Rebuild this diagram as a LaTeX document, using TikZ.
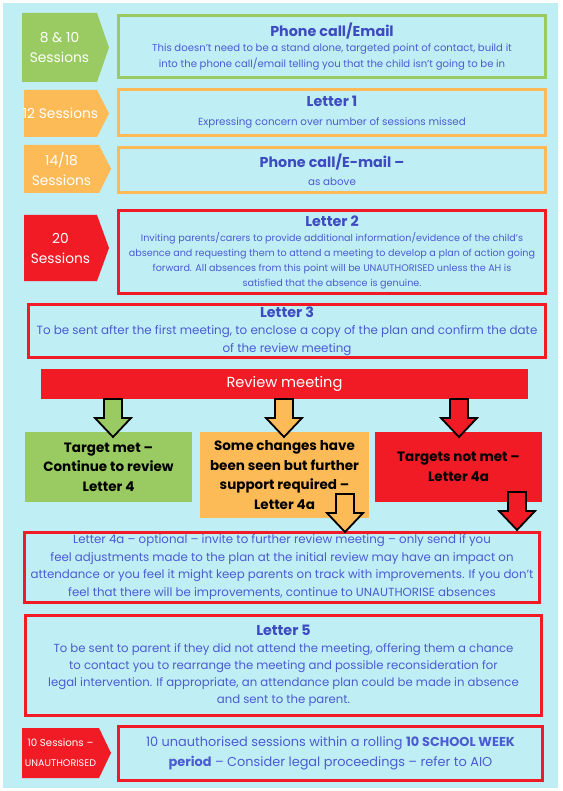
\documentclass[tikz,border=0pt]{standalone}
\usepackage{fontspec}
\setmainfont{Poppins}
\usepackage{xcolor}
\definecolor{bgcyan}{HTML}{C0EEF5}
\definecolor{tgreen}{HTML}{9ACB62}
\definecolor{torange}{HTML}{FDBB58}
\definecolor{tred}{HTML}{F01B25}
\definecolor{ttitle}{HTML}{3D4BC0}
\definecolor{tbody}{HTML}{4A5CD2}
\usepackage{tikz}
\newcommand{\ttl}[1]{{\fontsize{14.3}{16}\selectfont\bfseries\color{ttitle}#1}}
\newcommand{\fsz}[2]{\fontsize{#1}{#2}\selectfont}
\newcommand{\sesstag}[7]{%
 \fill[#6] (#2,#3) -- (#4-12,#3) -- (#4,{(#3+#5)/2}) -- (#4-12,#5) -- (#2,#5) -- cycle;
 \node[tagtext] (#1) at ({(#2+#4-12)/2},{(#3+#5)/2}) {#7};}
\newcommand{\blockdown}[2]{%
 \draw[blockarr,fill=#2] (#1) ++(-9,0) -- ++(18,0) -- ++(0,19) -- ++(9,0) -- ++(-18,19) -- ++(-18,-19) -- ++(9,0) -- cycle;}

\begin{document}
\begin{tikzpicture}[x=1pt,y=-1pt]
\tikzset{
 stage/.style={draw=#1,line width=3pt,align=center,text=tbody,inner sep=0pt},
 tagtext/.style={text=white,align=center,font=\fsz{13.8}{20}},
 outcome/.style={fill=#1,align=center,font=\fsz{13.5}{19.5}\bfseries,inner sep=0pt,minimum width=167pt},
 blockarr/.style={draw=black,line width=1.8pt,line join=miter}
}
\useasboundingbox (0,0) rectangle (562,791);
\fill[bgcyan] (3,3) rectangle (558,788);

\sesstag{t1}{22}{13}{109}{82}{tgreen}{8 \& 10\\Sessions}
\sesstag{t2}{24}{90}{109}{137}{torange}{12 Sessions}
\sesstag{t3}{24}{145}{111}{193}{torange}{14/18\\Sessions}
\sesstag{t4}{24}{215}{109}{281}{tred}{20\\Sessions}
\sesstag{t5}{22}{728}{111}{778}{tred}{{\fsz{10.2}{15}10 Sessions –}\\{\fsz{9.6}{15}UNAUTHORISED}}

\node[stage=tgreen,minimum width=427pt,minimum height=62pt,font=\fsz{10.1}{15.5}] (phone) at (332,46.5)
 {\ttl{Phone call/Email}\\This doesn’t need to be a stand alone, targeted point of contact, build it\\into the phone call/email telling you that the child isn’t going to be in};
\node[stage=torange,minimum width=427pt,minimum height=46pt,font=\fsz{10.3}{19}] (let1) at (332,112.5)
 {\ttl{Letter 1}\\Expressing concern over number of sessions missed};
\node[stage=torange,minimum width=427pt,minimum height=45pt,font=\fsz{10.3}{17.5}] (phone2) at (332,170)
 {\ttl{Phone call/E-mail –}\\as above};
\node[stage=tred,minimum width=427pt,minimum height=83pt,font=\fsz{9.6}{15}] (let2) at (332,252)
 {\ttl{Letter 2}\\Inviting parents/carers to provide additional information/evidence of the child’s\\absence and requesting them to attend a meeting to develop a plan of action going\\forward. All absences from this point will be UNAUTHORISED unless the AH is\\satisfied that the absence is genuine.};
\node[stage=tred,minimum width=517pt,minimum height=53pt,font=\fsz{11.9}{17.5}] (let3) at (287,331)
 {\ttl{Letter 3}\\To be sent after the first meeting, to enclose a copy of the plan and confirm the date\\of the review meeting};
\node[fill=tred,text=white,minimum width=487pt,minimum height=30pt,font=\fsz{14.6}{17}] (review) at (284.5,384) {Review meeting};

\node[outcome=tgreen,minimum height=70pt] (met) at (108.5,467) {Target met –\\Continue to review\\Letter 4};
\node[outcome=torange,minimum width=169pt,minimum height=86pt] (some) at (284.5,475) {Some changes have\\been seen but further\\support required –\\Letter 4a};
\node[outcome=tred,minimum height=70pt] (notmet) at (458.5,467) {Targets not met –\\Letter 4a};

\blockdown{113,399}{tgreen}
\blockdown{284,399}{torange}
\blockdown{459,399}{tred}

\node[stage=tred,minimum width=515pt,minimum height=70pt,font=\fsz{11.8}{17.5}] (let4a) at (282,567)
 {Letter 4a – optional – invite to further review meeting – only send if you\\feel adjustments made to the plan at the initial review may have an impact on\\attendance or you feel it might keep parents on track with improvements. If you don’t\\feel that there will be improvements, continue to UNAUTHORISE absences};

\blockdown{345,494}{torange}
\blockdown{517,492}{tred}

\node[stage=tred,minimum width=516pt,minimum height=100pt,font=\fsz{11.7}{17}] (let5) at (283.5,665.5)
 {\ttl{Letter 5}\\To be sent to parent if they did not attend the meeting, offering them a chance\\to contact you to rearrange the meeting and possible reconsideration for\\legal intervention. If appropriate, an attendance plan could be made in absence\\and sent to the parent.};
\node[stage=tred,minimum width=424pt,minimum height=54pt,font=\fsz{12.9}{20}] (legal) at (330.5,753.5)
 {10 unauthorised sessions within a rolling \textbf{10 SCHOOL WEEK}\\\textbf{period} – Consider legal proceedings – refer to AIO};
\end{tikzpicture}
\end{document}
